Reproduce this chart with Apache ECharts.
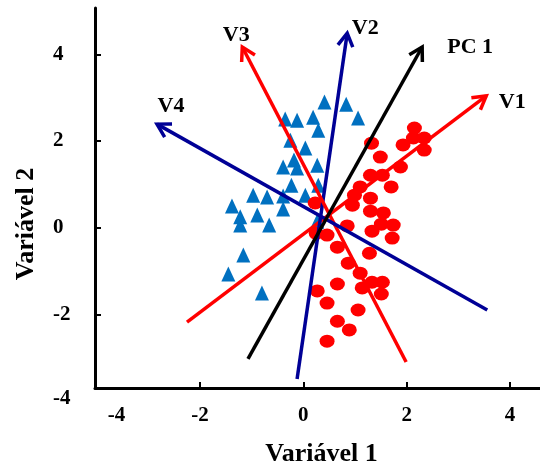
<!DOCTYPE html>
<html><head><meta charset="utf-8">
<script src="https://cdn.jsdelivr.net/npm/echarts@6/dist/echarts.min.js"></script>
<style>html,body{margin:0;padding:0;background:#fff}#c{width:540px;height:464px}</style>
</head><body><div id="c"></div>
<script>
// ---- data ----
const xTickLabels = [-4, -2, 0, 2, 4];
const yTickLabels = [-4, -2, 0, 2, 4];
const xRange = [-4.03, 4.58];
const yRange = [-3.70, 5.07];

const groupTriangles = [
  [0.41, 2.90], [0.83, 2.85], [1.06, 2.53], [-0.35, 2.51], [-0.12, 2.48], [0.19, 2.55],
  [0.29, 2.25], [-0.25, 2.02], [0.04, 1.84], [-0.18, 1.56], [-0.39, 1.40], [-0.12, 1.38],
  [0.27, 1.44], [-0.23, 0.98], [0.29, 0.98], [-0.97, 0.75], [-0.70, 0.71], [-0.39, 0.73],
  [0.04, 0.75], [-1.38, 0.50], [-0.39, 0.43], [-1.22, 0.25], [-0.89, 0.29], [-1.22, 0.06],
  [-0.66, 0.06], [-1.16, -0.63], [-1.45, -1.07], [-0.80, -1.51], [0.27, 0.15]
];
const groupCircles = [
  [2.15, 2.30], [2.34, 2.07], [2.13, 2.07], [1.93, 1.91], [2.34, 1.79], [1.32, 1.95],
  [1.49, 1.63], [1.88, 1.40], [1.30, 1.21], [1.53, 1.21], [1.70, 0.94], [1.10, 0.94],
  [0.99, 0.75], [1.30, 0.68], [0.95, 0.52], [1.30, 0.38], [1.55, 0.34], [0.23, 0.57],
  [1.74, 0.06], [1.51, 0.08], [0.85, 0.04], [1.33, -0.08], [0.25, -0.13], [0.46, -0.17],
  [0.66, -0.45], [1.72, -0.24], [1.28, -0.59], [0.87, -0.82], [1.10, -1.05], [1.33, -1.26],
  [1.53, -1.26], [1.14, -1.39], [1.51, -1.53], [0.66, -1.30], [0.27, -1.46], [0.46, -1.74],
  [1.06, -1.90], [0.66, -2.16], [0.89, -2.36], [0.46, -2.62]
];
const vectorNames = ['V1', 'V2', 'V3', 'V4', 'PC 1'];
const vectorStarts = [[-2.25, -2.18], [-0.12, -3.49], [1.99, -3.10], [3.56, -1.90], [-1.07, -3.03]];
const vectorEnds = [[3.54, 3.04], [0.85, 4.49], [-1.18, 4.17], [-2.83, 2.39], [2.30, 4.17]];

// ---- styles ----
const vectorColors = ['#ff0000', '#000096', '#ff0000', '#000096', '#000000'];
const labelOffsets = [[26, 6], [18, -5], [-6, -12], [14, -18], [48, 0]];
const FONT = '"Liberation Serif", "Times New Roman", serif';
const tickFont = {fontSize: 21, fontWeight: 'bold', fontFamily: FONT, color: '#000'};

const vectorData = vectorStarts.map((s, i) => [s[0], s[1], vectorEnds[i][0], vectorEnds[i][1]]);
const yInRange = yTickLabels.filter(v => v >= yRange[0] && v <= yRange[1]);
const yOutRange = yTickLabels.filter(v => v < yRange[0] || v > yRange[1]);

const chart = echarts.init(document.getElementById('c'), null, {renderer: 'canvas'});
chart.setOption({
  animation: false,
  backgroundColor: '#fff',
  grid: {left: 95, right: 0, top: 8, bottom: 76, containLabel: false, outerBoundsMode: 'none'},
  xAxis: {
    type: 'value', min: xRange[0], max: xRange[1],
    splitLine: {show: false},
    axisLine: {show: true, onZero: false, lineStyle: {color: '#000', width: 3}},
    axisTick: {show: true, inside: true, length: 6, lineStyle: {color: '#000', width: 2},
      customValues: xTickLabels.filter(v => v > xRange[0] + 0.1)},
    axisLabel: Object.assign({
      customValues: xTickLabels.map(v => Math.max(v, xRange[0])),
      margin: 17,
      formatter: v => {
        const t = xTickLabels.reduce((b, c) => Math.abs(c - v) < Math.abs(b - v) ? c : b);
        return t === xTickLabels[0] ? '{lo|' + t + '}' : String(t);
      },
      rich: {lo: Object.assign({padding: [0, 0, 0, 40]}, tickFont)}
    }, tickFont),
    name: 'Variável 1', nameLocation: 'middle', nameGap: 53,
    nameTextStyle: {fontSize: 26, fontWeight: 'bold', fontFamily: FONT, color: '#000', padding: [0, 0, 0, 8]}
  },
  yAxis: {
    type: 'value', min: yRange[0], max: yRange[1],
    splitLine: {show: false},
    axisLine: {show: true, onZero: false, lineStyle: {color: '#000', width: 3}},
    axisTick: {show: true, inside: true, length: 6, lineStyle: {color: '#000', width: 2},
      customValues: yInRange},
    axisLabel: Object.assign({
      customValues: yInRange,
      margin: 42, align: 'left', padding: [5, 0, 0, 0]
    }, tickFont),
    name: 'Variável 2', nameLocation: 'middle', nameGap: 56,
    nameTextStyle: {fontSize: 26, fontWeight: 'bold', fontFamily: FONT, color: '#000', padding: [0, 52, 0, 0]}
  },
  series: [
    {type: 'scatter', data: groupTriangles, symbol: 'triangle', symbolSize: [14, 15],
      itemStyle: {color: '#0070c0', opacity: 1}, z: 2},
    {type: 'scatter', data: groupCircles, symbol: 'circle', symbolSize: [15, 13],
      itemStyle: {color: '#ff0000', opacity: 1}, z: 3},
    {type: 'custom', data: vectorData, encode: {x: [0, 2], y: [1, 3]}, z: 4, clip: false,
      renderItem: (params, api) => {
        const i = params.dataIndex;
        const p0 = api.coord([api.value(0), api.value(1)]);
        const p1 = api.coord([api.value(2), api.value(3)]);
        const dx = p1[0] - p0[0], dy = p1[1] - p0[1];
        const len = Math.hypot(dx, dy);
        const ux = dx / len, uy = dy / len;
        const L = 15, a = Math.PI / 6;
        const arm = s => [
          p1[0] - L * (ux * Math.cos(a) - s * uy * Math.sin(a)),
          p1[1] - L * (uy * Math.cos(a) + s * ux * Math.sin(a))
        ];
        const color = vectorColors[i];
        return {type: 'group', children: [
          {type: 'line', shape: {x1: p0[0], y1: p0[1], x2: p1[0], y2: p1[1]},
            style: {stroke: color, lineWidth: 3.5}},
          {type: 'polyline', shape: {points: [arm(1), p1, arm(-1)]},
            style: {stroke: color, lineWidth: 3.5, fill: 'none', lineJoin: 'miter'}},
          {type: 'text', x: p1[0] + labelOffsets[i][0], y: p1[1] + labelOffsets[i][1],
            style: {text: vectorNames[i], align: 'center', verticalAlign: 'middle',
              fontSize: 22, fontWeight: 'bold', fontFamily: FONT, fill: '#000'}}
        ]};
      }
    }
  ]
});

// y tick label that falls just below the axis range (placed from the axis scale)
const yAxisLeft = chart.convertToPixel({xAxisIndex: 0}, xRange[0]);
chart.setOption({
  graphic: yOutRange.map((v, k) => ({
    id: 'ylab' + k, type: 'text', silent: true,
    x: yAxisLeft - 42,
    y: chart.convertToPixel({yAxisIndex: 0}, v) - 2,
    style: {text: String(v), align: 'left', verticalAlign: 'middle',
      fontSize: 21, fontWeight: 'bold', fontFamily: FONT, fill: '#000'}
  }))
});
</script>
</body></html>
